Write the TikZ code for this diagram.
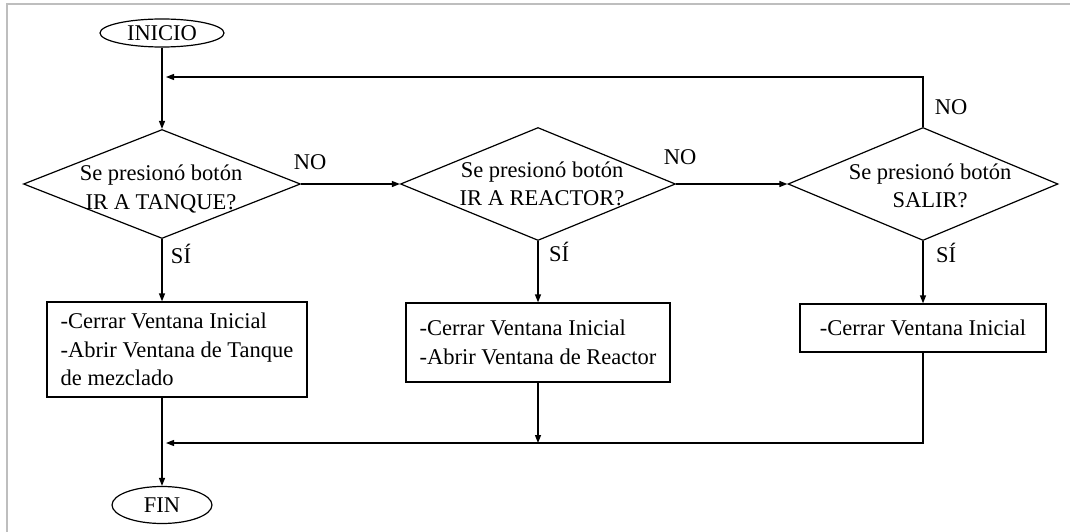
\documentclass[tikz,border=0pt]{standalone}
\usepackage{fontspec}
\setmainfont{Liberation Serif}
\usetikzlibrary{shapes.geometric,arrows.meta}
\definecolor{framegray}{RGB}{190,190,190}
\begin{document}
\begin{tikzpicture}[x=1pt,y=-1pt,
  every node/.style={font=\fontsize{22.5}{28.5}\selectfont},
  flow/.style={line width=1.3pt, draw=black},
  arr/.style={flow, -{Triangle[length=8pt,width=6pt]}},
  term/.style={ellipse, draw, line width=1.2pt, inner sep=0pt},
  dec/.style={diamond, draw, line width=1.2pt, inner sep=0pt},
  act/.style={rectangle, draw, line width=1.3pt, inner sep=0pt, align=left},
  lbl/.style={inner sep=0pt}]
\useasboundingbox (0,0) rectangle (1070,532);
% page frame
\draw[framegray, line width=1.2pt] (7,532) -- (7,4) -- (1070,4);

% terminals
\node[term, minimum width=124pt, minimum height=28pt] (ini) at (162,33) {INICIO};
\node[term, minimum width=100pt, minimum height=37pt] (fin) at (162,505) {FIN};

% decisions
\node[dec, minimum width=277pt, minimum height=109pt] (d1) at (162,184) {};
\node[dec, minimum width=275pt, minimum height=113pt] (d2) at (538,184) {};
\node[dec, minimum width=270pt, minimum height=113pt] (d3) at (923,184) {};
\node[lbl, align=center] (t1) at (161,189) {Se presionó botón\\IR A TANQUE?};
\node[lbl, align=center] (t2) at (542,184) {Se presionó botón\\IR A REACTOR?};
\node[lbl, align=center] (t3) at (930,186) {Se presionó botón\\SALIR?};

% actions
\node[act, minimum width=260pt, minimum height=95pt] (b1) at (177,349.5)
  {-Cerrar Ventana Inicial\\-Abrir Ventana de Tanque\\de mezclado};
\node[act, minimum width=264pt, minimum height=79pt] (b2) at (538,342.5)
  {-Cerrar Ventana Inicial\\-Abrir Ventana de Reactor};
\node[act, minimum width=246pt, minimum height=48pt] (b3) at (923,328)
  {-Cerrar Ventana Inicial};

% junctions
\coordinate (m1) at (162,77);
\coordinate (m2) at (162,443);

% connectors
\draw[flow] (ini.south) -- (m1);
\draw[arr] (m1) -- (d1.north);
\draw[arr] (d3.north) -- (d3.north |- m1) -- ([xshift=4pt]m1);
\draw[arr] (d1.east) -- (d2.west);
\draw[arr] (d2.east) -- (d3.west);
\draw[arr] (d1.south) -- (d1.south |- b1.north);
\draw[arr] (d2.south) -- (b2.north);
\draw[arr] (d3.south) -- (b3.north);
\draw[flow] (b1.south -| m2) -- (m2);
\draw[arr] (m2) -- (fin.north);
\draw[arr] (b2.south) -- (b2.south |- m2);
\draw[arr] (b3.south) -- (b3.south |- m2) -- ([xshift=4pt]m2);

% branch labels
\node[lbl] (no1) at (310,162) {NO};
\node[lbl] (no2) at (680,157) {NO};
\node[lbl] (no3) at (951,107) {NO};
\node[lbl] (si1) at (181,254) {SÍ};
\node[lbl] (si2) at (559,252) {SÍ};
\node[lbl] (si3) at (946,253) {SÍ};
\end{tikzpicture}
\end{document}
